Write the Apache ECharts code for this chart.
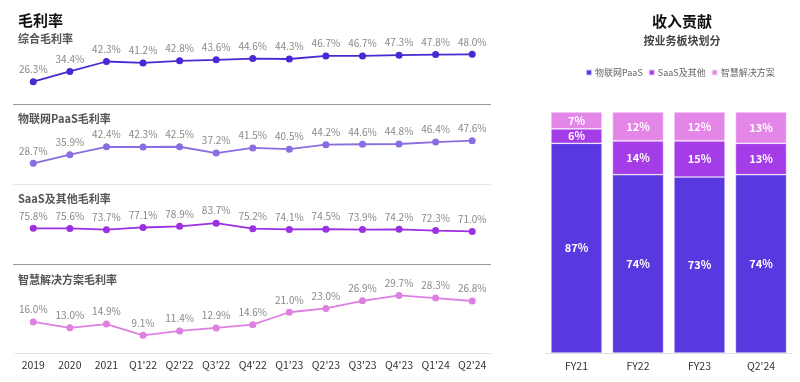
<!DOCTYPE html>
<html><head><meta charset="utf-8">
<script src="https://cdn.jsdelivr.net/npm/echarts@6/dist/echarts.min.js"></script>
<style>html,body{margin:0;padding:0;background:#fff}#c{width:800px;height:382px}</style>
</head><body><div id="c"></div>
<script>
const periods = ['2019','2020','2021',"Q1'22","Q2'22","Q3'22","Q4'22","Q1'23","Q2'23","Q3'23","Q4'23","Q1'24","Q2'24"];
const grossMargin = [26.3,34.4,42.3,41.2,42.8,43.6,44.6,44.3,46.7,46.7,47.3,47.8,48.0];
const paasMargin = [28.7,35.9,42.4,42.3,42.5,37.2,41.5,40.5,44.2,44.6,44.8,46.4,47.6];
const saasMargin = [75.8,75.6,73.7,77.1,78.9,83.7,75.2,74.1,74.5,73.9,74.2,72.3,71.0];
const solutionMargin = [16.0,13.0,14.9,9.1,11.4,12.9,14.6,21.0,23.0,26.9,29.7,28.3,26.8];
const lineTitles = ['综合毛利率','物联网PaaS毛利率','SaaS及其他毛利率','智慧解决方案毛利率'];

const barCats = ['FY21','FY22','FY23',"Q2'24"];
const barPaas = [87,74,73,74];
const barSaas = [6,14,15,13];
const barSolution = [7,12,12,13];
const barNames = ['物联网PaaS','SaaS及其他','智慧解决方案'];

const FONT = '"Noto Sans CJK SC","Noto Sans",sans-serif';
const lineColors = ['#4a28d4','#8a6de0','#9a30e2','#dd80e2'];
const barColors = ['#5a38e0','#a43ce8','#e486e8'];

const lineData = [grossMargin, paasMargin, saasMargin, solutionMargin];
const grids = [
  {left:15, width:475.5, top:39.2, height:75.6, min:0, max:60},
  {left:15, width:475.5, top:125.8, height:71.8, min:0, max:60},
  {left:15, width:475.5, top:212.5, height:65.4, min:0, max:100},
  {left:15, width:475.5, top:275.4, height:77.6, min:0, max:40},
  {left:545.75, width:246, top:112, height:241}
];

const chart = echarts.init(document.getElementById('c'), null, {renderer:'canvas'});
const xAxes = [], yAxes = [], series = [];
for (let i = 0; i < 4; i++) {
  xAxes.push({type:'category', gridIndex:i, data:periods, boundaryGap:true,
    axisLine:{show:i===3, lineStyle:{color:'#e3e3e3'}}, axisTick:{show:false},
    axisLabel:{show:i===3, interval:0, color:'#333', fontSize:10.5, fontFamily:FONT, margin:7}});
  yAxes.push({type:'value', gridIndex:i, min:grids[i].min, max:grids[i].max, show:false, splitLine:{show:false}});
  series.push({type:'line', xAxisIndex:i, yAxisIndex:i, data:lineData[i],
    symbol:'circle', symbolSize:7, lineStyle:{color:lineColors[i], width:1.8},
    itemStyle:{color:lineColors[i]},
    label:{show:true, position:'top', distance:4, color:'#888', fontSize:10, fontFamily:FONT,
      formatter:p=>p.value.toFixed(1)+'%'}});
}
xAxes.push({type:'category', gridIndex:4, data:barCats,
  axisLine:{show:true, lineStyle:{color:'#e0e0e0'}}, axisTick:{show:false},
  axisLabel:{color:'#333', fontSize:10.5, fontFamily:FONT, margin:8}});
yAxes.push({type:'value', gridIndex:4, min:0, max:100, show:false, splitLine:{show:false}});
const barSets = [barPaas, barSaas, barSolution];
for (let j = 0; j < 3; j++) {
  series.push({type:'bar', name:barNames[j], stack:'rev', xAxisIndex:4, yAxisIndex:4,
    data:barSets[j], barCategoryGap:'17%',
    itemStyle:{color:barColors[j], borderColor:'rgba(255,255,255,0.7)', borderWidth:0.6},
    label:{show:true, position:'inside', color:'#fff', fontWeight:'bold', fontSize:11, fontFamily:FONT,
      formatter:p=>p.value+'%'}});
}

const titles = [
  {text:'毛利率', left:13, top:8, textStyle:{fontSize:15, fontWeight:'bold', color:'#111', fontFamily:FONT}},
  {text:'收入贡献', left:677, top:9, textAlign:'center', textStyle:{fontSize:15, fontWeight:'bold', color:'#111', fontFamily:FONT}}
];
const titleTops = [28, 108, 188, 269];
lineTitles.forEach((t,i)=>titles.push({text:t, left:13, top:titleTops[i],
  textStyle:{fontSize:11, fontWeight:'bold', color:'#555', fontFamily:FONT}}));
titles.push({text:'按业务板块划分', left:677, top:30, textAlign:'center',
  textStyle:{fontSize:11, fontWeight:'bold', color:'#444', fontFamily:FONT}});

chart.setOption({
  animation:false,
  backgroundColor:'#fff',
  title:titles,
  legend:{data:barNames, left:580, top:63, itemWidth:6, itemHeight:6, itemGap:5, icon:'rect',
    textStyle:{fontSize:9, color:'#666', fontFamily:FONT, padding:[0,0,0,-2]}},
  grid:grids.map(g=>({left:g.left, width:g.width, top:g.top, height:g.height})),
  xAxis:xAxes, yAxis:yAxes, series:series,
  graphic:[
    {type:'line', shape:{x1:13, y1:104.5, x2:491, y2:104.5}, style:{stroke:'#9a9a9a', lineWidth:1}},
    {type:'line', shape:{x1:13, y1:184.5, x2:491, y2:184.5}, style:{stroke:'#e6e6e6', lineWidth:1}},
    {type:'line', shape:{x1:13, y1:264.5, x2:491, y2:264.5}, style:{stroke:'#9a9a9a', lineWidth:1}}
  ]
});
</script></body></html>
